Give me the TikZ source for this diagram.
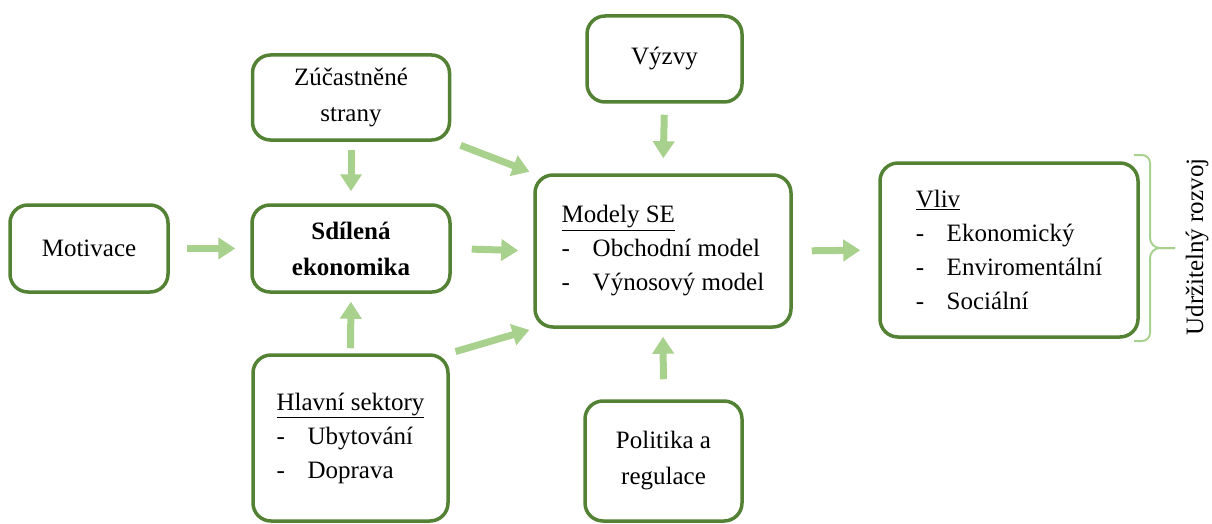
\documentclass[tikz,border=0pt]{standalone}
\usepackage{fontspec}
\setmainfont{Liberation Serif}
\usetikzlibrary{arrows.meta}
\definecolor{dgreen}{HTML}{548235}
\definecolor{lgreen}{HTML}{A9D18E}
\newcommand{\dl}[1]{\makebox[31pt][l]{-}#1}
\begin{document}
\begin{tikzpicture}[x=1pt,y=-1pt,
  box/.style={draw=dgreen, line width=3.5pt, rounded corners=18pt, fill=white,
    align=center, font=\rmfamily\fontsize{25}{36}\selectfont, inner sep=0pt},
  listbox/.style={box, align=left, font=\rmfamily\fontsize{25}{34}\selectfont},
  arr/.style={draw=lgreen, line width=7pt, -{Triangle[length=17pt,width=21pt]}},
  brace/.style={draw=lgreen, line width=2pt}]
\useasboundingbox (0,0) rectangle (1212,524);
\node[box, minimum width=158pt, minimum height=87pt] (mot) at (89,248.5) {Motivace};
\node[box, minimum width=198pt, minimum height=87pt] (se) at (351,248.5) {\bfseries Sdílená\\\bfseries ekonomika};
\node[box, minimum width=197pt, minimum height=85pt] (zuc) at (351,97.5) {Zúčastněné\\strany};
\node[listbox, minimum width=195pt, minimum height=166pt] (hl) at (350.5,438) {\underline{Hlavní sektory}\\\dl{Ubytování}\\\dl{Doprava}};
\node[box, minimum width=155pt, minimum height=86pt] (vyz) at (664.5,59) {Výzvy};
\node[listbox, minimum width=256pt, minimum height=152pt] (mod) at (663,251) {\underline{Modely SE}\\\dl{Obchodní model}\\\dl{Výnosový model}};
\node[box, minimum width=157pt, minimum height=120pt] (pol) at (663.5,461) {Politika a\\regulace};
\node[listbox, minimum width=258pt, minimum height=174pt] (vliv) at (1009,250) {\underline{Vliv}\\\dl{Ekonomický}\\\dl{Enviromentální}\\\dl{Sociální}};
\draw[arr, shorten <=17pt, shorten >=15pt] (mot.east) -- (se.west);
\draw[arr, shorten <=8pt, shorten >=12pt] (zuc.south) -- (se.north);
\draw[arr, shorten <=5pt, shorten >=8pt] (hl.north) -- (se.south);
\draw[arr, shorten <=20pt, shorten >=15pt] (se.east) -- (mod.west);
\draw[arr, shorten <=10pt, shorten >=4pt] (zuc.south east) -- (mod.north west);
\draw[arr, shorten <=6pt, shorten >=4pt] (hl.north east) -- (mod.south west);
\draw[arr, shorten <=11pt, shorten >=15pt] (vyz.south) -- (mod.north);
\draw[arr, shorten <=20pt, shorten >=8pt] (pol.north) -- (mod.south);
\draw[arr, shorten <=19pt, shorten >=18pt] (mod.east) -- (vliv.west);
\coordinate (tip) at (1175,248);
\draw[brace] (1134,155) -- (1142,155) arc[start angle=90, end angle=0, radius=8pt]
  -- (1150,238) arc[start angle=180, end angle=270, radius=10pt] -- (tip);
\draw[brace] (1134,341) -- (1142,341) arc[start angle=-90, end angle=0, radius=8pt]
  -- (1150,258) arc[start angle=180, end angle=90, radius=10pt] -- (tip);
\node[rotate=90, font=\rmfamily\fontsize{25}{33}\selectfont, inner sep=0pt] (ur) at (1197,247) {Udržitelný rozvoj};
\end{tikzpicture}
\end{document}
